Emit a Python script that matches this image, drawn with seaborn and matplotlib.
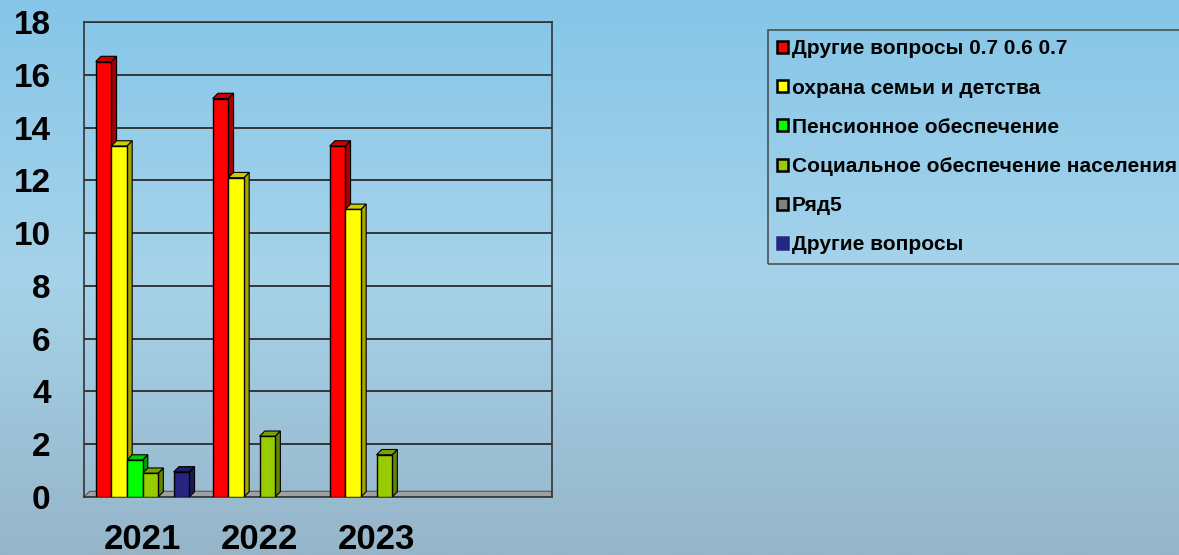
import numpy as np
import pandas as pd
import matplotlib
matplotlib.use("Agg")
import matplotlib.pyplot as plt
import seaborn as sns
from matplotlib.patches import Polygon, Patch
from matplotlib.colors import to_rgb, LinearSegmentedColormap

years = ["2021", "2022", "2023", ""]
series = ["Другие вопросы 0.7 0.6 0.7", "охрана семьи и детства",
          "Пенсионное обеспечение", "Социальное обеспечение населения",
          "Ряд5", "Другие вопросы"]
colors = ["#FF0000", "#FFFF00", "#00FF00", "#99CC00", "#808080", "#262682"]

other_a = [16.5, 15.1, 13.3]
family = [13.3, 12.1, 10.9]
pension = [1.4, np.nan, np.nan]
social = [0.9, 2.3, 1.6]
row5 = [np.nan, np.nan, np.nan]
other_b = [0.95, np.nan, np.nan]

rows = []
for vals, name in zip([other_a, family, pension, social, row5, other_b], series):
    for yr, v in zip(years[:3], vals):
        rows.append({"year": yr, "series": name, "value": v})
df = pd.DataFrame(rows)

sns.set_style("white")
plt.rcParams["font.family"] = ["Liberation Sans", "DejaVu Sans"]
plt.rcParams["font.weight"] = "bold"
plt.rcParams["text.color"] = "black"

fig = plt.figure(figsize=(11.79, 5.55), dpi=100)

# background gradient
bg = fig.add_axes([0, 0, 1, 1], zorder=-10)
cmap = LinearSegmentedColormap.from_list("bg", ["#86C6E8", "#A6D3EA", "#96B5C9"])
bg.imshow(np.linspace(0, 1, 256).reshape(-1, 1), aspect="auto", cmap=cmap,
          extent=[0, 1, 0, 1])
bg.axis("off")

ax = fig.add_axes([84 / 1179, 58 / 555, 468 / 1179, 475 / 555])
ax.set_facecolor("none")

sns.barplot(data=df, x="year", y="value", hue="series", order=years,
            hue_order=series, palette=colors, edgecolor="black", linewidth=1,
            saturation=1, width=0.8, ax=ax, legend=False, zorder=3)

# 3D side and top faces
dx, dy = 0.045, 0.2
for p in list(ax.patches):
    h = p.get_height()
    if not np.isfinite(h) or h <= 0:
        continue
    x0, w = p.get_x(), p.get_width()
    c = np.array(to_rgb(p.get_facecolor()))
    side = Polygon([(x0 + w, 0), (x0 + w + dx, dy), (x0 + w + dx, h + dy), (x0 + w, h)],
                   closed=True, facecolor=c * 0.65, edgecolor="black", lw=0.8, zorder=2.9)
    top = Polygon([(x0, h), (x0 + dx, h + dy), (x0 + w + dx, h + dy), (x0 + w, h)],
                  closed=True, facecolor=c * 0.8, edgecolor="black", lw=0.8, zorder=2.9)
    ax.add_patch(side)
    ax.add_patch(top)

ax.set_xlim(-0.5, 3.5)
ax.set_ylim(0, 18)
ax.set_yticks(range(0, 19, 2))
ax.yaxis.grid(True, color="#2b2b2b", lw=1.3, zorder=0)
ax.set_axisbelow(True)

# floor band
floor = Polygon([(0, 0), (0.012, 0.012), (1, 0.012), (1, 0)], closed=True,
                transform=ax.transAxes, facecolor="#A0A0A0", edgecolor="#555555",
                lw=0.8, zorder=1)
ax.add_patch(floor)

for s in ["top", "right", "left", "bottom"]:
    ax.spines[s].set_color("#333333")
    ax.spines[s].set_linewidth(1.2)

ax.set_xticks(np.arange(-0.5, 4, 1), minor=True)
ax.tick_params(axis="x", which="minor", length=9, width=1.2, color="#333333")
ax.tick_params(axis="x", which="major", length=0, pad=19, labelsize=25,
               labelcolor="black")
ax.tick_params(axis="y", length=8, width=1.2, color="#333333", pad=16,
               labelsize=24, labelcolor="black")
for lab in ax.get_xticklabels() + ax.get_yticklabels():
    lab.set_fontweight("bold")
ax.set_xlabel("")
ax.set_ylabel("")

handles = [Patch(facecolor=c, edgecolor="black" if i < 5 else c, lw=1.8)
           for i, c in enumerate(colors)]
leg = fig.legend(handles, series, loc="upper left",
                 bbox_to_anchor=(768 / 1179, 1 - 30 / 555), frameon=True,
                 fancybox=False, edgecolor="#333333",
                 handlelength=0.5, handleheight=0.5, handletextpad=0.2,
                 labelspacing=0.97, borderpad=0.45, borderaxespad=0,
                 prop={"size": 15, "weight": "bold"})
leg.get_frame().set_facecolor("none")
leg.get_frame().set_linewidth(1.2)
for t in leg.get_texts():
    t.set_color("black")

fig.savefig("out.png", dpi=100)
